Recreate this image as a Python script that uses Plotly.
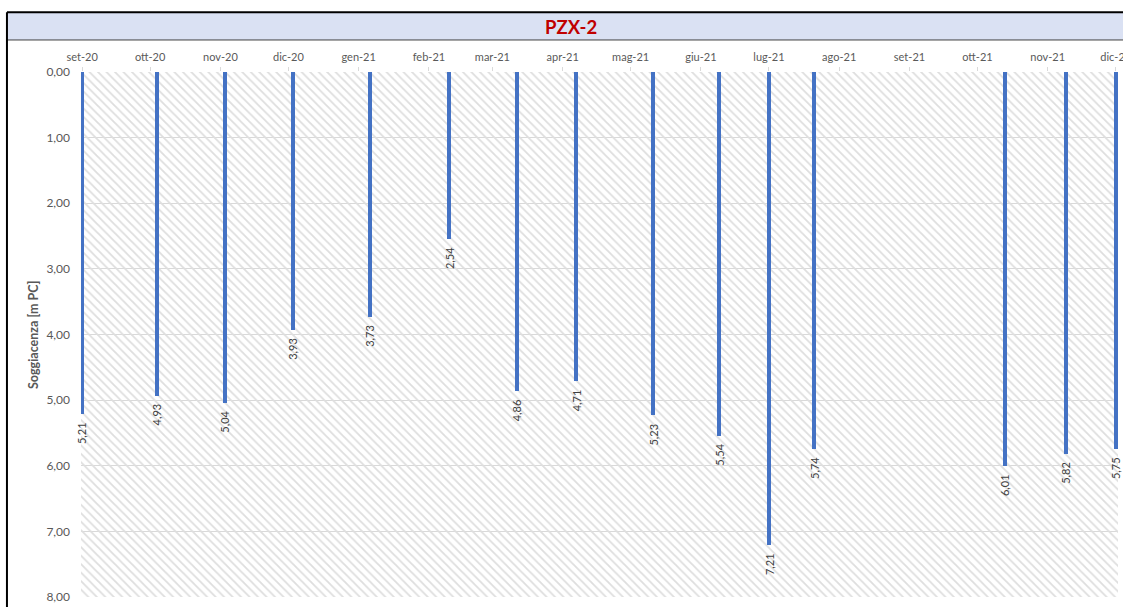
import plotly.graph_objects as go

# Survey dates and depth-to-water readings (m below ground level)
dates = ["2020-09-01", "2020-10-04", "2020-11-03", "2020-12-03", "2021-01-06",
         "2021-02-10", "2021-03-12", "2021-04-07", "2021-05-11", "2021-06-09",
         "2021-07-01", "2021-07-21", "2021-10-13", "2021-11-09", "2021-12-01"]
soggiacenza = [5.21, 4.93, 5.04, 3.93, 3.73, 2.54, 4.86, 4.71, 5.23, 5.54,
               7.21, 5.74, 6.01, 5.82, 5.75]

# Month ticks on the top axis
month_ticks = ["2020-09-01", "2020-10-01", "2020-11-01", "2020-12-01", "2021-01-01",
               "2021-02-01", "2021-03-01", "2021-04-01", "2021-05-01", "2021-06-01",
               "2021-07-01", "2021-08-01", "2021-09-01", "2021-10-01", "2021-11-01",
               "2021-12-01"]
month_labels = ["set-20", "ott-20", "nov-20", "dic-20", "gen-21", "feb-21", "mar-21",
                "apr-21", "mag-21", "giu-21", "lug-21", "ago-21", "set-21", "ott-21",
                "nov-21", "dic-21"]

grey = "#595959"
blue = "#4472C4"
font = "Lato"
day_ms = 86400000

fig = go.Figure()

# hatched plot background (base axes, hidden)
fig.add_trace(go.Scatter(
    x=[0, 1, 1, 0, 0], y=[0, 0, 1, 1, 0], mode="lines", line=dict(width=0),
    fill="toself", fillcolor="rgba(0,0,0,0)",
    fillpattern=dict(shape="\\", fgcolor="#dedede", bgcolor="rgba(0,0,0,0)",
                     size=6, solidity=0.3, fillmode="replace"),
    hoverinfo="skip", showlegend=False, xaxis="x", yaxis="y"))

# readings as thin columns hanging from 0
fig.add_trace(go.Bar(
    x=dates, y=soggiacenza, width=1.9 * day_ms,
    marker=dict(color=blue, line=dict(width=0)),
    hoverinfo="x+y", showlegend=False, xaxis="x2", yaxis="y2"))

# value labels below each column, reading upward
for d, v in zip(dates, soggiacenza):
    fig.add_annotation(
        x=d, y=v, xref="x2", yref="y2", text=f"{v:.2f}".replace(".", ","),
        textangle=-90, xanchor="center", yanchor="top", yshift=-6,
        showarrow=False, font=dict(family=font, size=11, color="#404040"))

fig.update_layout(
    width=1123, height=607,
    margin=dict(l=81, r=5, t=72, b=10, autoexpand=False),
    paper_bgcolor="white", plot_bgcolor="white",
    separators=",.",
    font=dict(family=font, color=grey),
    xaxis=dict(range=[0, 1], visible=False, fixedrange=True),
    yaxis=dict(range=[0, 1], visible=False, fixedrange=True),
    xaxis2=dict(
        overlaying="x", side="top", type="date", anchor="y2",
        range=["2020-08-31 12:00", "2021-12-02"],
        tickvals=month_ticks, ticktext=month_labels,
        tickfont=dict(family=font, size=11, color=grey),
        ticks="outside", ticklen=4, tickcolor="#d9d9d9", ticklabelstandoff=2,
        ticklabeloverflow="allow", automargin=False,
        showgrid=False, showline=False, zeroline=False),
    yaxis2=dict(
        overlaying="y", side="left", anchor="x2",
        range=[8, 0], dtick=1, tickformat=".2f",
        tickfont=dict(family=font, size=12, color=grey),
        showgrid=True, gridcolor="#d9d9d9", gridwidth=1, automargin=False,
        ticklabelstandoff=10, showline=False, zeroline=False),
    bargap=0,
)

# header band with the chart title
fig.add_shape(type="rect", xref="paper", yref="paper",
              x0=-0.0714, x1=1.05, y0=1.061, y1=1.114,
              fillcolor="#DAE1F3", line=dict(width=0), layer="below")
fig.add_shape(type="line", xref="paper", yref="paper",
              x0=-0.0714, x1=1.05, y0=1.061, y1=1.061,
              line=dict(color="#404040", width=1))
fig.add_shape(type="line", xref="paper", yref="paper",
              x0=-0.0714, x1=1.05, y0=1.114, y1=1.114,
              line=dict(color="black", width=2))
fig.add_shape(type="line", xref="paper", yref="paper",
              x0=-0.0714, x1=-0.0714, y0=-0.03, y1=1.114,
              line=dict(color="black", width=2))

fig.add_annotation(text="<b>PZX-2</b>", xref="paper", yref="paper",
                   x=0.4725, y=1.085, xanchor="center", yanchor="middle",
                   showarrow=False, font=dict(family=font, size=18.5, color="#C00000"))
fig.add_annotation(text="<b>Soggiacenza [m PC]</b>", xref="paper", yref="paper",
                   x=-0.0463, y=0.499, xanchor="center", yanchor="middle",
                   textangle=-90, showarrow=False,
                   font=dict(family=font, size=12.5, color=grey))

fig.write_html("out.html", config={"displayModeBar": False},
               post_script="document.body.style.margin='0';")
